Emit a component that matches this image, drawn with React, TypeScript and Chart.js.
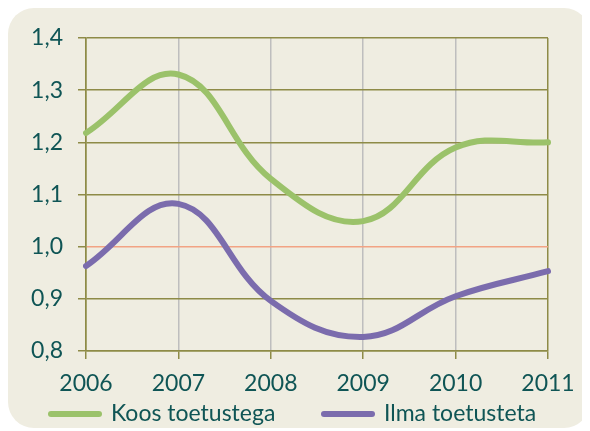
import React, { useEffect, useRef } from "react";
import { Chart, registerables } from "chart.js";

Chart.register(...registerables);

const years = ["2006", "2007", "2008", "2009", "2010", "2011"];
const koosToetustega = [1.218, 1.33, 1.13, 1.049, 1.19, 1.2];
const ilmaToetusteta = [0.963, 1.082, 0.896, 0.827, 0.905, 0.953];
const seriesLabels = ["Koos toetustega", "Ilma toetusteta"];
const yTicksMin = 0.8;
const yTicksMax = 1.4;
const yTicksStep = 0.1;

const GREEN = "#9BC26A";
const PURPLE = "#7B6CAD";
const OLIVE = "#8E8B47";
const GRAY = "#BEBEBE";
const ORANGE = "#F2A384";
const TEXT = "#0F5555";
const BEIGE = "#EFEDE1";
const FONT = "Lato, 'Open Sans', sans-serif";

const legendPlugin = {
  id: "customLegend",
  afterDraw(chart: any) {
    const ctx = chart.ctx;
    const items = chart.data.datasets;
    const positions = [
      { x0: 43, x1: 91, tx: 103 },
      { x0: 316, x1: 364, tx: 376 },
    ];
    const y = 406;
    ctx.save();
    items.forEach((ds: any, i: number) => {
      const p = positions[i];
      ctx.strokeStyle = ds.borderColor;
      ctx.lineWidth = 6;
      ctx.lineCap = "round";
      ctx.beginPath();
      ctx.moveTo(p.x0, y);
      ctx.lineTo(p.x1, y);
      ctx.stroke();
      ctx.fillStyle = TEXT;
      ctx.font = `23px ${FONT}`;
      ctx.textBaseline = "middle";
      ctx.textAlign = "left";
      ctx.fillText(ds.label, p.tx, y);
    });
    ctx.restore();
  },
};

export default function App() {
  const ref = useRef<HTMLCanvasElement | null>(null);

  useEffect(() => {
    if (!ref.current) return;
    const chart = new Chart(ref.current, {
      type: "line",
      data: {
        labels: years,
        datasets: [
          {
            label: seriesLabels[0],
            data: koosToetustega,
            borderColor: GREEN,
            backgroundColor: GREEN,
            borderWidth: 6,
            pointRadius: 0,
            tension: 0.4,
            borderCapStyle: "round",
          },
          {
            label: seriesLabels[1],
            data: ilmaToetusteta,
            borderColor: PURPLE,
            backgroundColor: PURPLE,
            borderWidth: 6,
            pointRadius: 0,
            tension: 0.4,
            borderCapStyle: "round",
          },
        ],
      },
      options: {
        animation: false,
        responsive: false,
        maintainAspectRatio: false,
        layout: { padding: { left: 0, right: 42, top: 30, bottom: 30 } },
        plugins: {
          legend: { display: false },
          tooltip: { enabled: false },
        },
        scales: {
          x: {
            offset: false,
            grid: {
              color: (c: any) =>
                c.index === 0 || c.index === years.length - 1 ? OLIVE : GRAY,
              lineWidth: 1.5,
              tickColor: OLIVE,
              tickLength: 8,
              drawTicks: true,
            },
            border: { color: OLIVE, width: 1.5 },
            ticks: {
              color: TEXT,
              font: { family: FONT, size: 23 },
              padding: 11,
              maxRotation: 0,
            },
            afterFit: (s: any) => {
              s.height = 47;
            },
          },
          y: {
            min: yTicksMin,
            max: yTicksMax,
            grid: {
              color: (c: any) =>
                c.tick && Math.abs(c.tick.value - 1) < 1e-6 ? ORANGE : OLIVE,
              lineWidth: 1.5,
              tickColor: OLIVE,
              tickLength: 8,
            },
            border: { color: OLIVE, width: 1.5 },
            ticks: {
              stepSize: yTicksStep,
              color: TEXT,
              font: { family: FONT, size: 23 },
              padding: 15,
              callback: (v: any) => Number(v).toFixed(1).replace(".", ","),
            },
            afterFit: (s: any) => {
              s.width = 78;
            },
          },
        },
      },
      plugins: [legendPlugin],
    });
    return () => chart.destroy();
  }, []);

  return (
    <div
      style={{
        width: 582,
        height: 420,
        background: BEIGE,
        borderRadius: 26,
        overflow: "hidden",
      }}
    >
      <canvas ref={ref} width={582} height={420} style={{ display: "block" }} />
    </div>
  );
}
